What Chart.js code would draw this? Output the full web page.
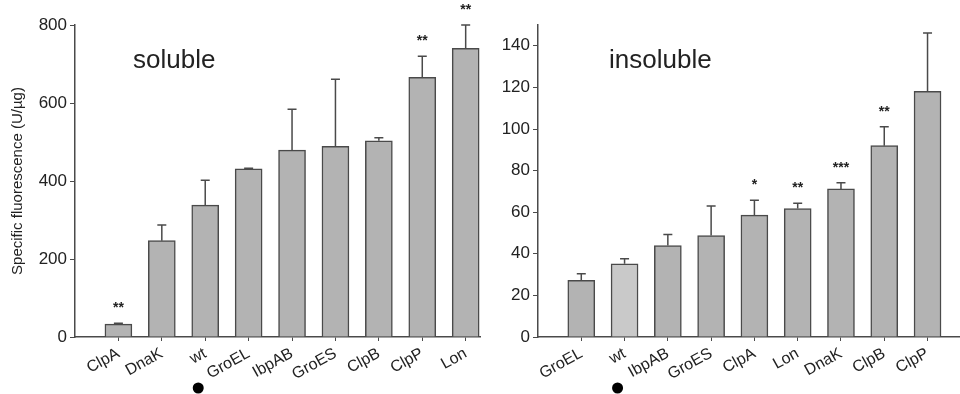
<!DOCTYPE html>
<html>
<head>
<meta charset="utf-8">
<script src="https://cdn.jsdelivr.net/npm/chart.js@4"></script>
<style>
  body { margin: 0; background: #fff; }
  .box { position: absolute; top: 0; }
</style>
</head>
<body>
<div class="box" style="left:0"><canvas id="solChart" width="484" height="394"></canvas></div>
<div class="box" style="left:484px"><canvas id="insolChart" width="476" height="394"></canvas></div>
<script>
// soluble fraction
var solLabels = ['ClpA', 'DnaK', 'wt', 'GroEL', 'IbpAB', 'GroES', 'ClpB', 'ClpP', 'Lon'];
var solValues = [33, 247, 338, 431, 479, 489, 503, 666, 740];
var solErrTop = [35, 287, 402, 433, 584, 661, 511, 720, 800];
var solStars = ['**', '', '', '', '', '', '', '**', '**'];

// insoluble fraction
var insolLabels = ['GroEL', 'wt', 'IbpAB', 'GroES', 'ClpA', 'Lon', 'DnaK', 'ClpB', 'ClpP'];
var insolValues = [27.2, 35.2, 44, 48.8, 58.6, 61.8, 71.2, 92, 118.1];
var insolErrTop = [30.4, 37.6, 49.3, 63, 65.8, 64.3, 74.1, 101.1, 146.1];
var insolStars = ['', '', '', '', '*', '**', '***', '**', ''];

var FONT = "'Liberation Sans', Arial, sans-serif";
var INK = '#222';
var EDGE = '#4a4a4a';

// error bars, stars, panel name and the wt marker
var extras = {
    id: 'extras',
    afterDatasetsDraw: function (chart, args, opts) {
        var ctx = chart.ctx;
        var xs = chart.scales.x, ys = chart.scales.y;
        ctx.save();
        ctx.strokeStyle = EDGE;
        ctx.lineWidth = 1.5;
        opts.values.forEach(function (v, i) {
            var x = xs.getPixelForValue(i + 1);
            var y0 = ys.getPixelForValue(v);
            var y1 = ys.getPixelForValue(opts.errTop[i]);
            ctx.beginPath();
            ctx.moveTo(x, y0);
            ctx.lineTo(x, y1);
            ctx.moveTo(x - 4.5, y1);
            ctx.lineTo(x + 4.5, y1);
            ctx.stroke();
            if (opts.stars[i]) {
                ctx.fillStyle = INK;
                ctx.font = 'bold 14px ' + FONT;
                ctx.textAlign = 'center';
                ctx.textBaseline = 'middle';
                ctx.fillText(opts.stars[i], x, y1 - 15);
            }
        });
        ctx.fillStyle = INK;
        ctx.font = '26px ' + FONT;
        ctx.textAlign = 'left';
        ctx.textBaseline = 'alphabetic';
        ctx.fillText(opts.name, chart.chartArea.left + opts.nameDx, 68);

        var wx = xs.getPixelForValue(opts.labels.indexOf('wt') + 1) - 7;
        ctx.beginPath();
        ctx.arc(wx, 388, 5.5, 0, Math.PI * 2);
        ctx.fillStyle = '#000';
        ctx.fill();
        ctx.restore();
    }
};

function makeChart(id, labels, values, errTop, stars, cfg) {
    var points = values.map(function (v, i) { return { x: i + 1, y: v }; });
    var colors = labels.map(function (l) { return (cfg.lightWt && l === 'wt') ? '#c9c9c9' : '#b3b3b3'; });
    return new Chart(document.getElementById(id).getContext('2d'), {
        type: 'bar',
        data: {
            datasets: [{
                data: points,
                backgroundColor: colors,
                borderColor: EDGE,
                borderWidth: 1.5,
                barThickness: 27
            }]
        },
        options: {
            responsive: false,
            animation: false,
            layout: { padding: { top: 25, right: cfg.padRight, left: 0, bottom: 0 } },
            plugins: {
                legend: { display: false },
                tooltip: { enabled: false },
                extras: { values: values, errTop: errTop, stars: stars, labels: labels, name: cfg.name, nameDx: cfg.nameDx }
            },
            scales: {
                x: {
                    type: 'linear',
                    offset: false,
                    min: 0,
                    max: cfg.xMax,
                    afterBuildTicks: function (axis) {
                        axis.ticks = labels.map(function (l, i) { return { value: i + 1 }; });
                    },
                    afterFit: function (axis) { axis.height = 57; },
                    ticks: {
                        autoSkip: false,
                        minRotation: 29,
                        maxRotation: 29,
                        padding: 3,
                        color: INK,
                        font: { family: FONT, size: 16 },
                        callback: function (v) { return labels[v - 1] || ''; }
                    },
                    grid: { display: true, offset: false, drawOnChartArea: false, tickLength: 4, color: EDGE },
                    border: { display: true, color: EDGE, width: 1.5 }
                },
                y: {
                    min: 0,
                    max: cfg.yMax,
                    afterBuildTicks: function (axis) {
                        axis.ticks = axis.ticks.filter(function (t) { return t.value <= cfg.yTop; });
                    },
                    afterFit: function (axis) { axis.width = cfg.yWidth; },
                    ticks: {
                        stepSize: cfg.yStep,
                        padding: 3,
                        color: INK,
                        font: { family: FONT, size: 17 }
                    },
                    grid: { display: true, drawOnChartArea: false, tickLength: 5, color: EDGE },
                    border: { display: true, color: EDGE, width: 1.5 },
                    title: {
                        display: !!cfg.yTitle,
                        text: cfg.yTitle || '',
                        color: INK,
                        padding: { top: 9, bottom: 4 },
                        font: { family: FONT, size: 15 }
                    }
                }
            }
        },
        plugins: [extras]
    });
}

makeChart('solChart', solLabels, solValues, solErrTop, solStars, {
    name: 'soluble', nameDx: 58, xMax: 9.33, yMax: 800, yTop: 800, yStep: 200,
    yWidth: 75, padRight: 4, yTitle: 'Specific fluorescence (U/\u00b5g)', lightWt: false
});

makeChart('insolChart', insolLabels, insolValues, insolErrTop, insolStars, {
    name: 'insoluble', nameDx: 71, xMax: 9.75, yMax: 150, yTop: 140, yStep: 20,
    yWidth: 54, padRight: 0, yTitle: '', lightWt: true
});
</script>
</body>
</html>
